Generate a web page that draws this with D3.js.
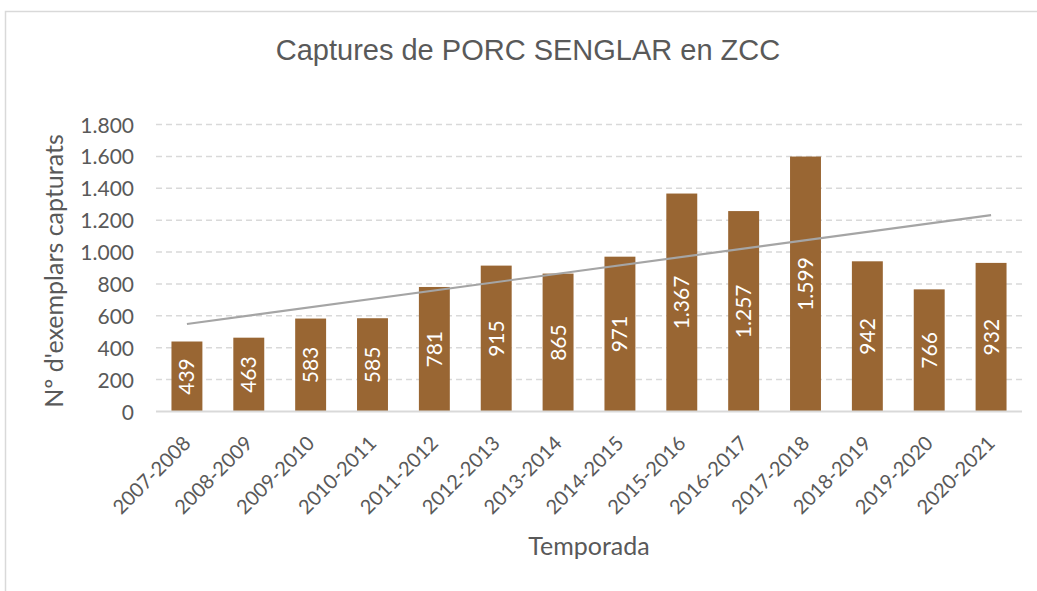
<!DOCTYPE html>
<html>
<head>
<meta charset="utf-8">
<script src="https://cdn.jsdelivr.net/npm/d3@7"></script>
<style>
  body { margin: 0; background: #fff; }
  svg { display: block; }
</style>
</head>
<body>
<svg id="chart"></svg>
<script>
// data
var seasons = ["2007-2008","2008-2009","2009-2010","2010-2011","2011-2012","2012-2013","2013-2014",
               "2014-2015","2015-2016","2016-2017","2017-2018","2018-2019","2019-2020","2020-2021"];
var captures = [439, 463, 583, 585, 781, 915, 865, 971, 1367, 1257, 1599, 942, 766, 932];
var yTicks = [0, 200, 400, 600, 800, 1000, 1200, 1400, 1600, 1800];

var width = 1037, height = 591;
var margin = {top: 124.5, right: 15, bottom: 179.5, left: 156};
var fmt = d3.formatLocale({decimal: ",", thousands: ".", grouping: [3], currency: ["", "€"]}).format(",");
var txt = "#595959";
var calib = "Lato, 'Open Sans', sans-serif";

var svg = d3.select("#chart").attr("width", width).attr("height", height);

// outer frame
svg.append("rect")
  .attr("x", 5.5).attr("y", 11.5)
  .attr("width", 1040).attr("height", 600)
  .attr("fill", "none").attr("stroke", "#d9d9d9").attr("stroke-width", 1.5);

var x = d3.scaleBand().domain(seasons).range([margin.left, width - margin.right]).paddingInner(0.5).paddingOuter(0.25);
var y = d3.scaleLinear().domain([0, 1800]).range([height - margin.bottom, margin.top]);

// gridlines
svg.append("g").selectAll("line")
  .data(yTicks.filter(function(d){ return d > 0; }))
  .enter().append("line")
  .attr("x1", margin.left).attr("x2", width - margin.right)
  .attr("y1", function(d){ return y(d); }).attr("y2", function(d){ return y(d); })
  .attr("stroke", "#d9d9d9").attr("stroke-width", 1.5).attr("stroke-dasharray", "6,4");

// y axis labels
var yAxis = svg.append("g")
  .attr("transform", "translate(" + (margin.left - 22) + ",0)")
  .call(d3.axisLeft(y).tickValues(yTicks).tickFormat(fmt).tickSize(0).tickPadding(0));
yAxis.select(".domain").remove();
yAxis.selectAll("text").attr("fill", txt).style("font-family", calib).style("font-size", "21px").attr("dy", "0.36em");

// bars
svg.append("g").selectAll("rect")
  .data(captures)
  .enter().append("rect")
  .attr("x", function(d, i){ return x(seasons[i]); })
  .attr("y", function(d){ return y(d); })
  .attr("width", x.bandwidth())
  .attr("height", function(d){ return y(0) - y(d); })
  .attr("fill", "#996633");

// data labels
svg.append("g").selectAll("text")
  .data(captures)
  .enter().append("text")
  .attr("transform", function(d, i){
    var cx = x(seasons[i]) + x.bandwidth() / 2;
    var cy = (y(d) + y(0)) / 2;
    return "translate(" + cx + "," + cy + ") rotate(-90)";
  })
  .attr("text-anchor", "middle").attr("dy", "0.36em")
  .attr("fill", "#fff").style("font-family", calib).style("font-size", "21px")
  .text(function(d){ return fmt(d); });

// baseline
svg.append("line")
  .attr("x1", margin.left).attr("x2", width - margin.right)
  .attr("y1", y(0)).attr("y2", y(0))
  .attr("stroke", "#d9d9d9").attr("stroke-width", 2);

// linear trendline
var n = captures.length;
var mx = d3.mean(captures, function(d, i){ return i; });
var my = d3.mean(captures);
var sxy = d3.sum(captures, function(d, i){ return (i - mx) * (d - my); });
var sxx = d3.sum(captures, function(d, i){ return (i - mx) * (i - mx); });
var slope = sxy / sxx, icpt = my - slope * mx;
svg.append("line")
  .attr("x1", x(seasons[0]) + x.bandwidth() / 2).attr("y1", y(icpt))
  .attr("x2", x(seasons[n - 1]) + x.bandwidth() / 2).attr("y2", y(icpt + slope * (n - 1)))
  .attr("stroke", "#a5a5a5").attr("stroke-width", 2.2);

// x labels
svg.append("g").selectAll("text")
  .data(seasons)
  .enter().append("text")
  .attr("transform", function(d){
    return "translate(" + (x(d) + x.bandwidth() / 2) + "," + (y(0) + 28) + ") rotate(-45)";
  })
  .attr("text-anchor", "end").attr("dy", "0.36em")
  .attr("fill", txt).style("font-family", calib).style("font-size", "20px")
  .text(function(d){ return d; });

// titles
svg.append("text")
  .attr("x", 528).attr("y", 60)
  .attr("text-anchor", "middle").attr("fill", txt)
  .style("font-family", "'Liberation Sans', Arial, sans-serif").style("font-size", "29px")
  .text("Captures de PORC SENGLAR en ZCC");

svg.append("text")
  .attr("transform", "translate(63," + ((y(0) + y(1800)) / 2 + 3) + ") rotate(-90)")
  .attr("text-anchor", "middle").attr("fill", txt)
  .style("font-family", calib).style("font-size", "25px")
  .text("Nº d'exemplars capturats");

svg.append("text")
  .attr("x", (margin.left + width - margin.right) / 2).attr("y", 555)
  .attr("text-anchor", "middle").attr("fill", txt)
  .style("font-family", calib).style("font-size", "25px")
  .text("Temporada");
</script>
</body>
</html>
